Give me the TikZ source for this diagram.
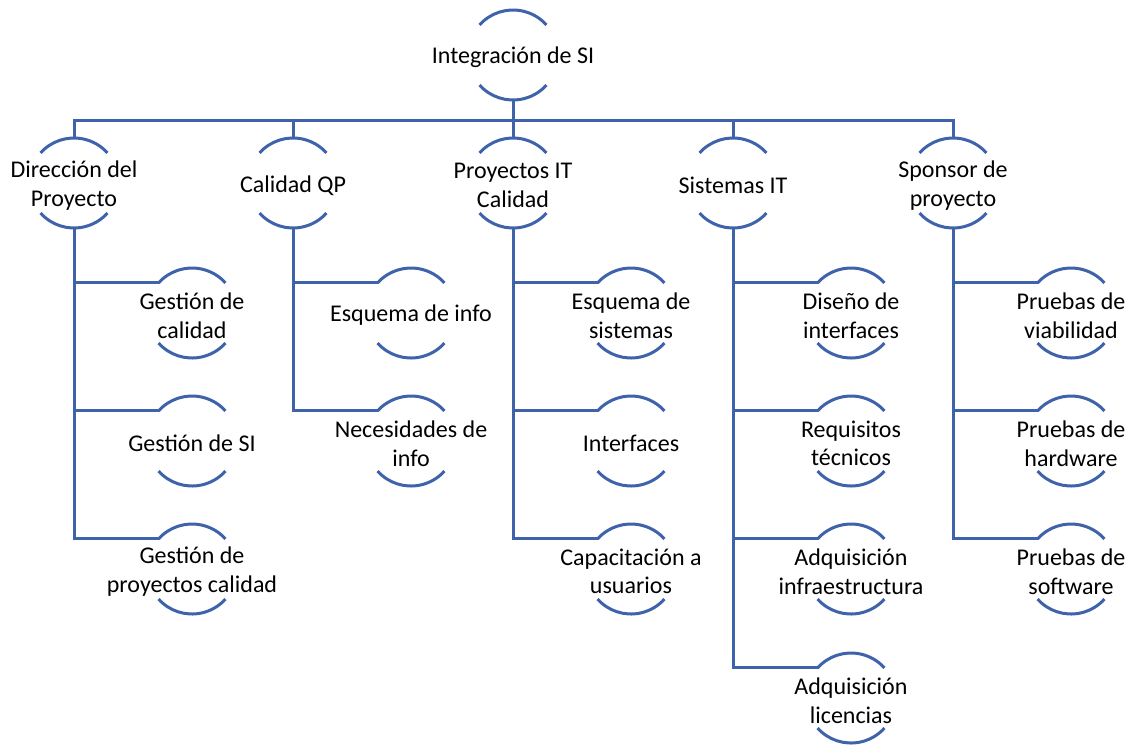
\documentclass[tikz,border=0pt]{standalone}
\usepackage{fontspec}
\setmainfont{Carlito}
\definecolor{lineblue}{RGB}{62,99,170}
\begin{document}
\begin{tikzpicture}[x=1pt,y=1pt,
  hnode/.style={circle,minimum size=90pt,inner sep=0pt,outer sep=0pt},
  lbl/.style={align=center,inner sep=0pt,yshift=-2.5pt,font=\fontsize{24}{28.5}\selectfont,text=black},
  conn/.style={draw=lineblue,line width=3pt},
  arcline/.style={draw=lineblue,line width=3pt}]
\useasboundingbox (0,0) rectangle (1134,-745);
% root
\node[hnode,label={[lbl]center:{Integración de SI}}] (root) at (513,-55) {};
% level 1
\node[hnode,label={[lbl]center:{Dirección del\\Proyecto}}] (d1) at (74,-183) {};
\node[hnode,label={[lbl]center:{Calidad QP}}] (d2) at (293,-183) {};
\node[hnode,label={[lbl]center:{Proyectos IT\\Calidad}}] (d3) at (513,-183) {};
\node[hnode,label={[lbl]center:{Sistemas IT}}] (d4) at (733,-183) {};
\node[hnode,label={[lbl]center:{Sponsor de\\proyecto}}] (d5) at (953,-183) {};
% children
\node[hnode,label={[lbl]center:{Gestión de\\calidad}}] (c11) at (192,-313) {};
\node[hnode,label={[lbl]center:{Gestión de SI}}] (c12) at (192,-441) {};
\node[hnode,label={[lbl]center:{Gestión de\\proyectos calidad}}] (c13) at (192,-569) {};
\node[hnode,label={[lbl]center:{Esquema de info}}] (c21) at (411,-313) {};
\node[hnode,label={[lbl]center:{Necesidades de\\info}}] (c22) at (411,-441) {};
\node[hnode,label={[lbl]center:{Esquema de\\sistemas}}] (c31) at (631,-313) {};
\node[hnode,label={[lbl]center:{Interfaces}}] (c32) at (631,-441) {};
\node[hnode,label={[lbl]center:{Capacitación a\\usuarios}}] (c33) at (631,-569) {};
\node[hnode,label={[lbl]center:{Diseño de\\interfaces}}] (c41) at (851,-313) {};
\node[hnode,label={[lbl]center:{Requisitos\\técnicos}}] (c42) at (851,-441) {};
\node[hnode,label={[lbl]center:{Adquisición\\infraestructura}}] (c43) at (851,-569) {};
\node[hnode,label={[lbl]center:{Adquisición\\licencias}}] (c44) at (851,-698) {};
\node[hnode,label={[lbl]center:{Pruebas de\\viabilidad}}] (c51) at (1071,-313) {};
\node[hnode,label={[lbl]center:{Pruebas de\\hardware}}] (c52) at (1071,-441) {};
\node[hnode,label={[lbl]center:{Pruebas de\\software}}] (c53) at (1071,-569) {};
% arcs
\foreach \n in {root,d1,d2,d3,d4,d5,c11,c12,c13,c21,c22,c31,c32,c33,c41,c42,c43,c44,c51,c52,c53}{
  \draw[arcline] (\n.138) arc[start angle=138,end angle=42,radius=45pt];
  \draw[arcline] (\n.222) arc[start angle=222,end angle=318,radius=45pt];
}
% bus
\coordinate (bus) at (513,-120);
\draw[conn] (root.south) -- (bus);
\draw[conn] (d1.north) -- (d1.north |- bus) -- (d5.north |- bus) -- (d5.north);
\foreach \n in {d2,d3,d4}{\draw[conn] (\n.north) -- (\n.north |- bus);}
% child connectors
\foreach \p/\c in {d1/c11,d1/c12,d1/c13,d2/c21,d2/c22,d3/c31,d3/c32,d3/c33,d4/c41,d4/c42,d4/c43,d4/c44,d5/c51,d5/c52,d5/c53}{
  \draw[conn] (\p.south) |- (\c.138);
}
\end{tikzpicture}
\end{document}
